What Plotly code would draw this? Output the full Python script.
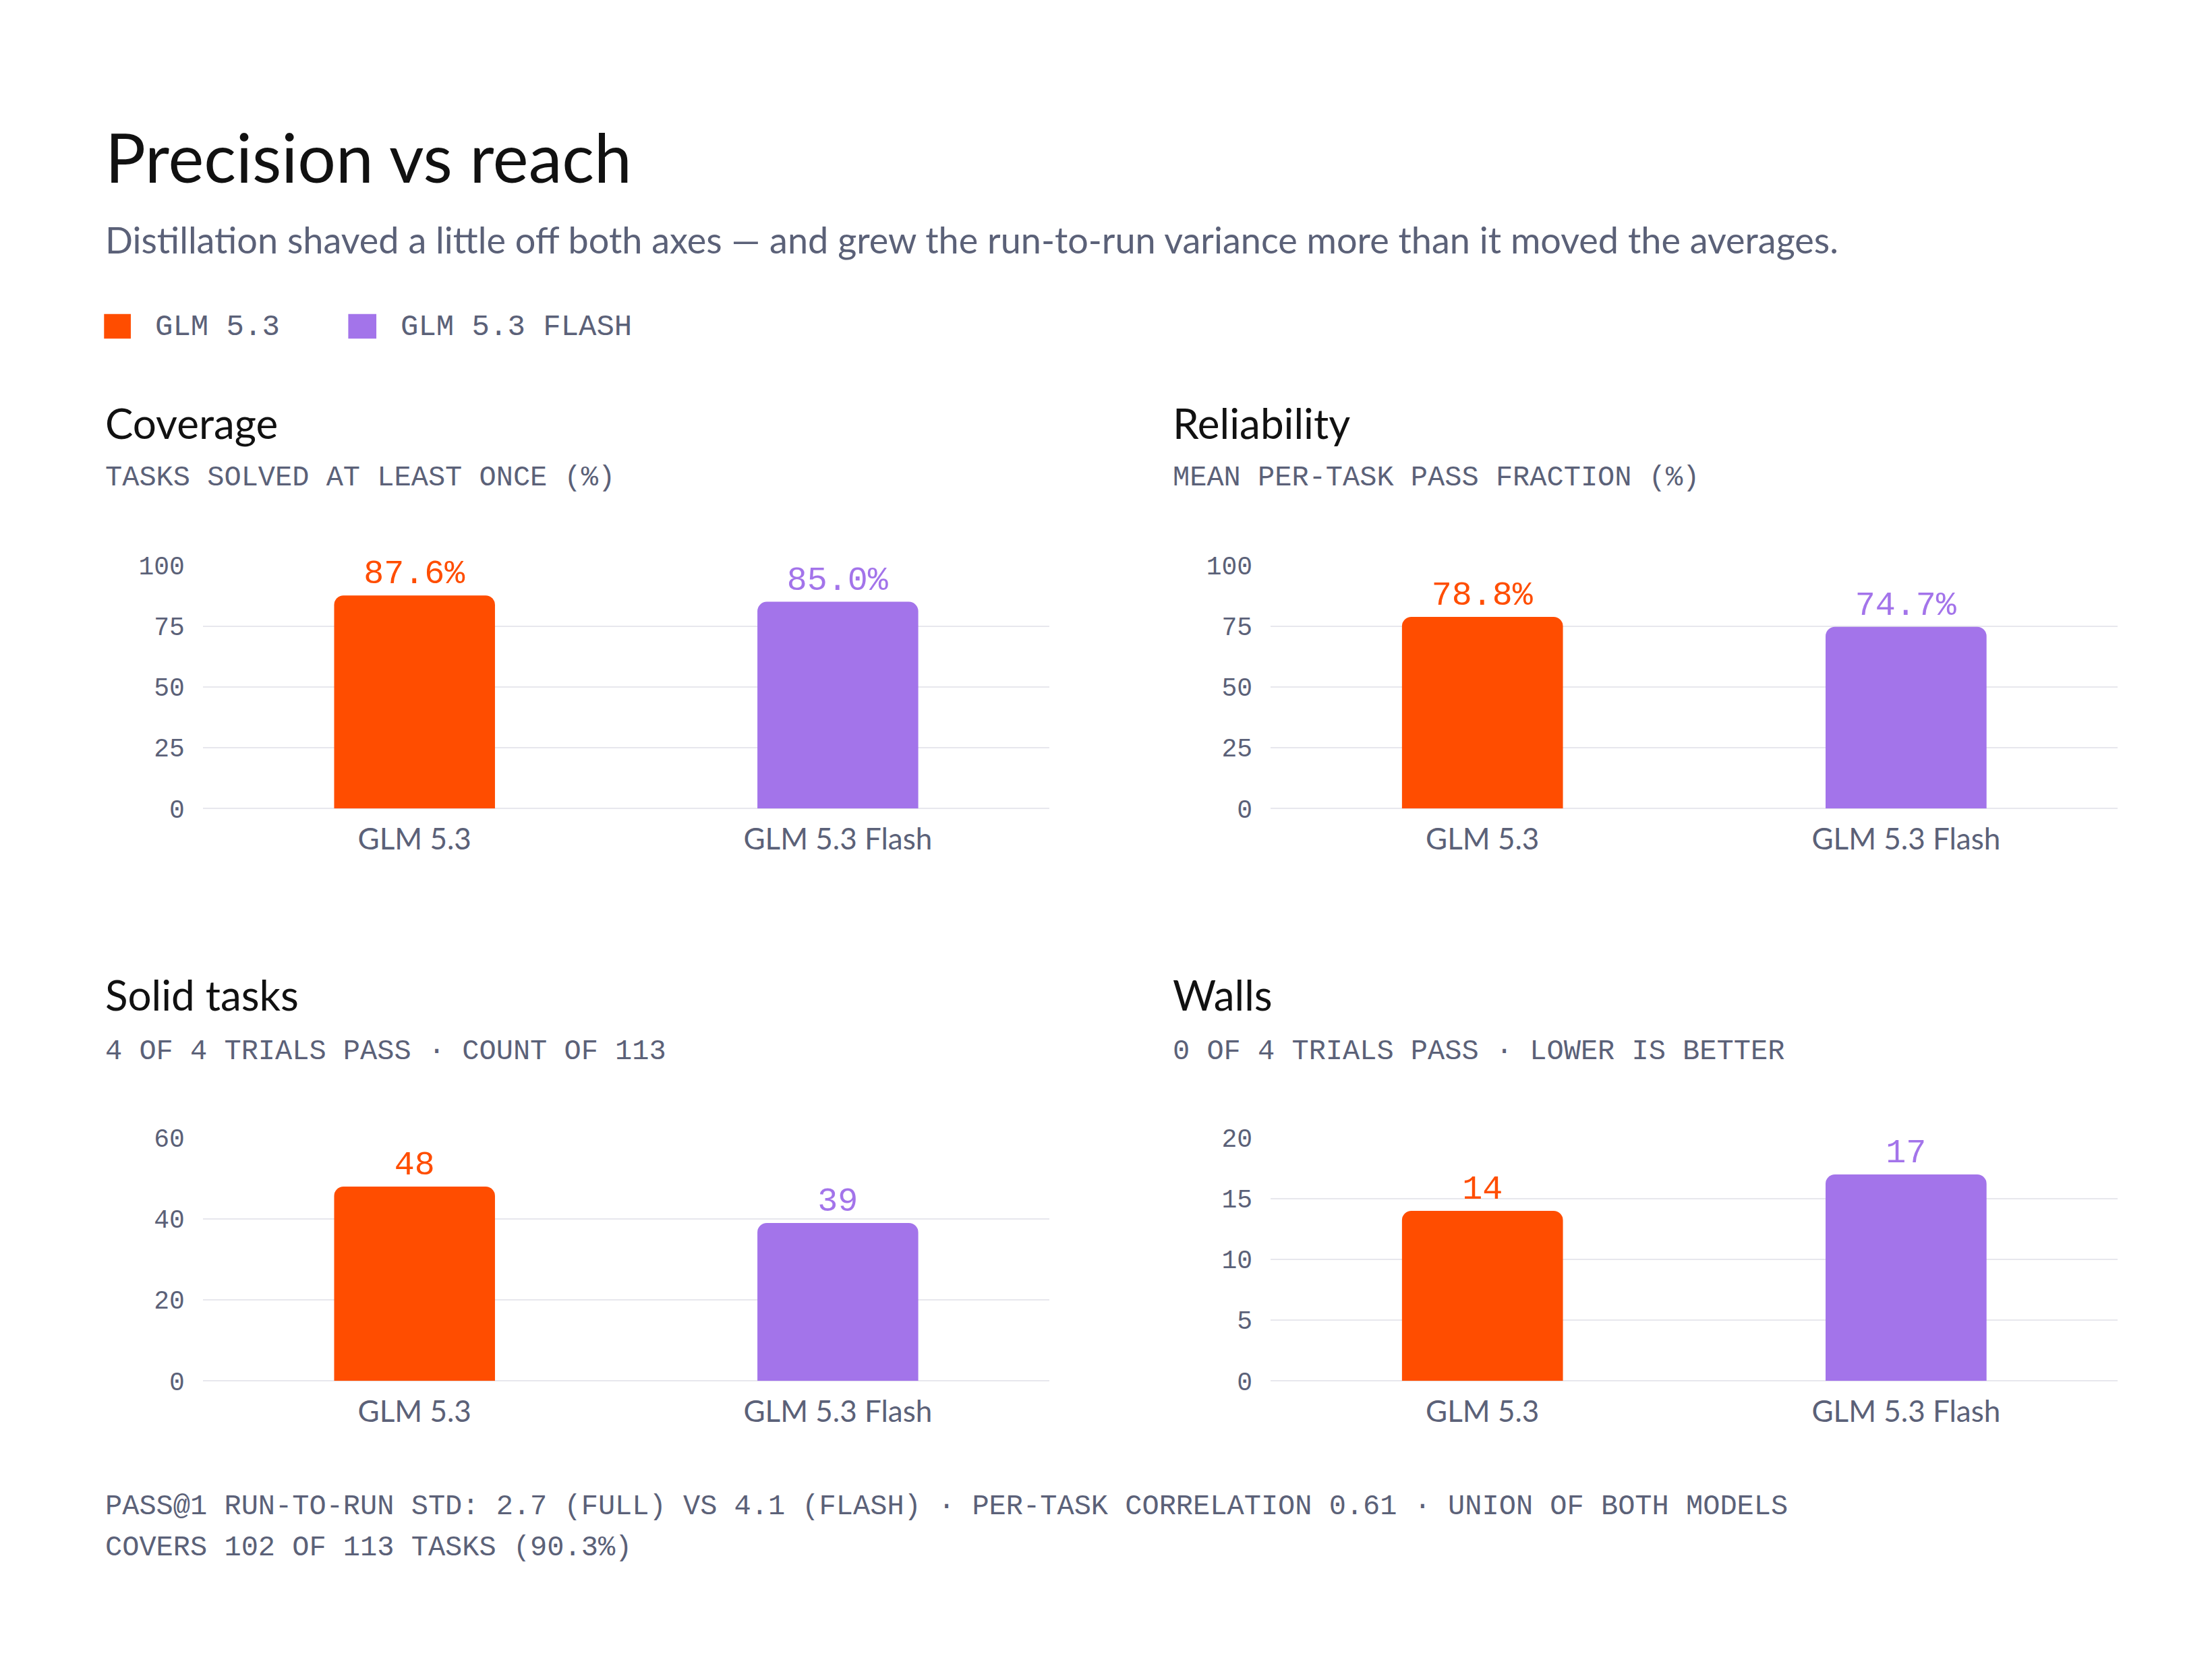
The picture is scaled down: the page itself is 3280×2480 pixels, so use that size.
import plotly.graph_objects as go

models = ["GLM 5.3", "GLM 5.3 Flash"]
coverage = [87.6, 85.0]
reliability = [78.8, 74.7]
solid = [48, 39]
walls = [14, 17]

panels = [
    ("Coverage", "TASKS SOLVED AT LEAST ONCE (%)", coverage, [0, 25, 50, 75, 100], "{:.1f}%"),
    ("Reliability", "MEAN PER-TASK PASS FRACTION (%)", reliability, [0, 25, 50, 75, 100], "{:.1f}%"),
    ("Solid tasks", "4 OF 4 TRIALS PASS · COUNT OF 113", solid, [0, 20, 40, 60], "{:d}"),
    ("Walls", "0 OF 4 TRIALS PASS · LOWER IS BETTER", walls, [0, 5, 10, 15, 20], "{:d}"),
]

ORANGE = "#FF4D00"
PURPLE = "#A374EA"
GRAY = "#5B6178"
GRID = "#E7E7ED"
SANS = "Lato, Inter, sans-serif"
MONO = "Liberation Mono, DejaVu Sans Mono, monospace"

xdoms = [[0.0893, 0.472], [0.572, 0.955]]
ydoms = [[0.519, 0.667], [0.1706, 0.3185]]
left_x = [0.0446, 0.527]
title_y = [0.754, 0.406]
sub_y = [0.72, 0.371]

fig = go.Figure()
layout = {}
annotations = []
for i, (title, sub, vals, ticks, fmt) in enumerate(panels):
    r, c = divmod(i, 2)
    n = i + 1
    xa = "x" if n == 1 else f"x{n}"
    ya = "y" if n == 1 else f"y{n}"
    fig.add_trace(go.Bar(
        x=models, y=vals, xaxis=xa, yaxis=ya, width=0.38,
        marker=dict(color=[ORANGE, PURPLE], cornerradius=14, line_width=0),
        text=[fmt.format(v) for v in vals], textposition="outside",
        textfont=dict(family=MONO, size=50, color=[ORANGE, PURPLE]),
        cliponaxis=False, showlegend=False, hoverinfo="skip",
    ))
    layout[f"xaxis{'' if n == 1 else n}"] = dict(
        domain=xdoms[c], anchor=ya, showgrid=False, showline=False, ticks="",
        tickfont=dict(family=SANS, size=44, color=GRAY), ticklabelstandoff=16)
    layout[f"yaxis{'' if n == 1 else n}"] = dict(
        domain=ydoms[r], anchor=xa, range=[0, ticks[-1]], tickvals=ticks,
        gridcolor=GRID, gridwidth=2, zeroline=True, zerolinecolor=GRID, zerolinewidth=2,
        showline=False, ticks="", ticklabelstandoff=26,
        tickfont=dict(family=MONO, size=38, color=GRAY))
    annotations.append(dict(x=left_x[c], y=title_y[r], xref="paper", yref="paper",
                            xanchor="left", yanchor="middle", showarrow=False,
                            text=title, font=dict(family=SANS, size=62, color="#111111")))
    annotations.append(dict(x=left_x[c], y=sub_y[r], xref="paper", yref="paper",
                            xanchor="left", yanchor="middle", showarrow=False,
                            text=sub, font=dict(family=MONO, size=42, color=GRAY)))

annotations += [
    dict(x=0.0446, y=0.916, text="Precision vs reach",
         font=dict(family=SANS, size=100, color="#111111")),
    dict(x=0.0446, y=0.865,
         text="Distillation shaved a little off both axes — and grew the run-to-run variance more than it moved the averages.",
         font=dict(family=SANS, size=54, color=GRAY)),
    dict(x=0.067, y=0.812, text="GLM 5.3", font=dict(family=MONO, size=44, color=GRAY)),
    dict(x=0.178, y=0.812, text="GLM 5.3 FLASH", font=dict(family=MONO, size=44, color=GRAY)),
    dict(x=0.0446, y=0.094,
         text="PASS@1 RUN-TO-RUN STD: 2.7 (FULL) VS 4.1 (FLASH) · PER-TASK CORRELATION 0.61 · UNION OF BOTH MODELS",
         font=dict(family=MONO, size=42, color=GRAY)),
    dict(x=0.0446, y=0.069, text="COVERS 102 OF 113 TASKS (90.3%)",
         font=dict(family=MONO, size=42, color=GRAY)),
]
for a in annotations[-6:]:
    a.update(xref="paper", yref="paper", xanchor="left", yanchor="middle", showarrow=False)

shapes = [
    dict(type="rect", xref="paper", yref="paper", x0=0.0446, x1=0.0567, y0=0.805, y1=0.820,
         fillcolor=ORANGE, line_width=0),
    dict(type="rect", xref="paper", yref="paper", x0=0.155, x1=0.1677, y0=0.805, y1=0.820,
         fillcolor=PURPLE, line_width=0),
]

fig.update_layout(width=3280, height=2480, paper_bgcolor="white", plot_bgcolor="white",
                  margin=dict(l=0, r=0, t=0, b=0), annotations=annotations, shapes=shapes,
                  bargap=0.62, **layout)
fig.write_html("out.html")
